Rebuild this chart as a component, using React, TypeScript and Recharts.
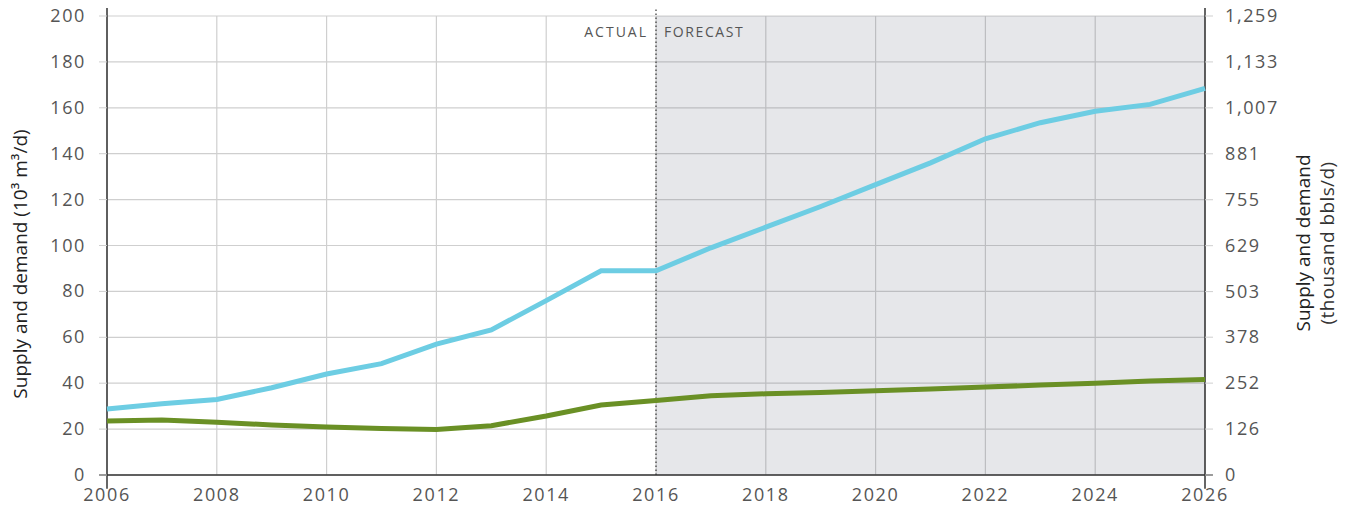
import React from "react";
import {
  ComposedChart,
  Line,
  XAxis,
  YAxis,
  CartesianGrid,
  ReferenceArea,
  ReferenceLine,
} from "recharts";

const years = [2006, 2007, 2008, 2009, 2010, 2011, 2012, 2013, 2014, 2015, 2016, 2017, 2018, 2019, 2020, 2021, 2022, 2023, 2024, 2025, 2026];
const blueSeries = [28.8, 31, 32.9, 38, 44, 48.5, 57, 63.2, 76, 89, 89, 99, 108, 117, 126.5, 136, 146.5, 153.5, 158.5, 161.5, 168.5];
const greenSeries = [23.5, 24, 23, 21.8, 20.9, 20.3, 19.8, 21.5, 25.7, 30.5, 32.5, 34.5, 35.4, 36, 36.7, 37.5, 38.3, 39.2, 40, 41, 41.6];
const xTicks = [2006, 2008, 2010, 2012, 2014, 2016, 2018, 2020, 2022, 2024, 2026];
const leftTicks = [0, 20, 40, 60, 80, 100, 120, 140, 160, 180, 200];
const rightTicks = [0, 126, 252, 378, 503, 629, 755, 881, 1007, 1133, 1259];
const BBL_PER_M3 = 6.2898;

const data = years.map((y, i) => ({
  year: y,
  blue: blueSeries[i],
  green: greenSeries[i],
  blueBbl: blueSeries[i] * BBL_PER_M3,
}));

const FONT = "'Open Sans', 'Noto Sans', sans-serif";
const TEXT = "#555555";
const TICK_FS = 18;
const TICK_LS = 1.6;

const XTick = (props: any) => {
  const { x, y, payload } = props;
  return (
    <text x={x} y={y + 16} textAnchor="middle" fontFamily={FONT} fontSize={TICK_FS} letterSpacing={TICK_LS} fill={TEXT}>
      {payload.value}
    </text>
  );
};

const LeftTick = (props: any) => {
  const { x, y, payload } = props;
  return (
    <text x={x} y={y + 6} textAnchor="end" fontFamily={FONT} fontSize={TICK_FS} letterSpacing={TICK_LS} fill={TEXT}>
      {payload.value}
    </text>
  );
};

const RightTick = (props: any) => {
  const { x, y, payload } = props;
  return (
    <text x={x} y={y + 6} textAnchor="start" fontFamily={FONT} fontSize={TICK_FS} letterSpacing={TICK_LS} fill={TEXT}>
      {Number(payload.value).toLocaleString("en-US")}
    </text>
  );
};

export default function App() {
  return (
    <div style={{ position: "absolute", left: 0, top: 0, fontFamily: FONT }}>
      <ComposedChart
        width={1354}
        height={515}
        data={data}
        margin={{ top: 16, right: 0, bottom: 0, left: 0 }}
      >
        <ReferenceArea
          yAxisId="left"
          x1={2016}
          x2={2026}
          y1={0}
          y2={200}
          fill="#5a6070"
          fillOpacity={0.15}
          stroke="none"
          ifOverflow="visible"
        />
        <CartesianGrid yAxisId="left" stroke="#cfcfcf" strokeWidth={1.2} />
        <XAxis
          dataKey="year"
          type="number"
          domain={[2006, 2026]}
          ticks={xTicks}
          height={40}
          axisLine={false}
          tickLine={false}
          tickMargin={4}
          tick={<XTick />}
        />
        <YAxis
          yAxisId="left"
          orientation="left"
          width={107}
          domain={[0, 200]}
          ticks={leftTicks}
          axisLine={false}
          tickLine={{ stroke: "#cfcfcf" }}
          tickSize={8}
          tickMargin={13}
          tick={<LeftTick />}
        />
        <YAxis
          yAxisId="right"
          orientation="right"
          width={149}
          domain={[0, 1259]}
          ticks={rightTicks}
          allowDataOverflow
          axisLine={false}
          tickLine={{ stroke: "#cfcfcf" }}
          tickSize={8}
          tickMargin={12}
          tick={<RightTick />}
        />
        <ReferenceLine
          yAxisId="left"
          segment={[{ x: 2016, y: 0 }, { x: 2016, y: 203.5 }]}
          stroke="#444"
          strokeWidth={1.3}
          strokeDasharray="1.5 2.5"
          ifOverflow="visible"
        />
        <ReferenceLine
          yAxisId="left"
          segment={[{ x: 2006, y: -6 }, { x: 2006, y: 203.5 }]}
          stroke="#333"
          strokeWidth={1.5}
          ifOverflow="visible"
        />
        <ReferenceLine
          yAxisId="left"
          segment={[{ x: 2026, y: -6 }, { x: 2026, y: 203.5 }]}
          stroke="#333"
          strokeWidth={1.5}
          ifOverflow="visible"
        />
        <ReferenceLine
          yAxisId="left"
          segment={[{ x: 2005.855, y: 0 }, { x: 2026.145, y: 0 }]}
          stroke="#333"
          strokeWidth={1.5}
          ifOverflow="visible"
        />
        <ReferenceLine
          yAxisId="left"
          segment={[{ x: 2016, y: 193 }, { x: 2016, y: 193 }]}
          stroke="none"
          ifOverflow="visible"
          label={{
            value: "ACTUAL",
            position: "left",
            offset: 8,
            style: { fill: TEXT, fontSize: 14, letterSpacing: 2, fontFamily: FONT },
          }}
        />
        <ReferenceLine
          yAxisId="left"
          segment={[{ x: 2016, y: 193 }, { x: 2016, y: 193 }]}
          stroke="none"
          ifOverflow="visible"
          label={{
            value: "FORECAST",
            position: "right",
            offset: 8,
            style: { fill: TEXT, fontSize: 14, letterSpacing: 1.6, fontFamily: FONT },
          }}
        />
        <Line
          yAxisId="right"
          dataKey="blueBbl"
          type="linear"
          stroke="transparent"
          strokeWidth={0}
          dot={false}
          activeDot={false}
          legendType="none"
          isAnimationActive={false}
        />
        <Line
          yAxisId="left"
          dataKey="blue"
          type="linear"
          stroke="#6dcde3"
          strokeWidth={5}
          dot={false}
          activeDot={false}
          isAnimationActive={false}
        />
        <Line
          yAxisId="left"
          dataKey="green"
          type="linear"
          stroke="#6a9025"
          strokeWidth={5}
          dot={false}
          activeDot={false}
          isAnimationActive={false}
        />
        <text
          transform="translate(27,264) rotate(-90)"
          textAnchor="middle"
          fontFamily={FONT}
          fontSize={19}
          fill="#222"
        >
          Supply and demand  (10³ m³/d)
        </text>
        <text
          transform="translate(1310,243) rotate(-90)"
          textAnchor="middle"
          fontFamily={FONT}
          fontSize={19}
          fill="#222"
        >
          Supply and demand
        </text>
        <text
          transform="translate(1334,243) rotate(-90)"
          textAnchor="middle"
          fontFamily={FONT}
          fontSize={19}
          letterSpacing={0.4}
          fill="#333"
        >
          (thousand bbls/d)
        </text>
      </ComposedChart>
    </div>
  );
}
